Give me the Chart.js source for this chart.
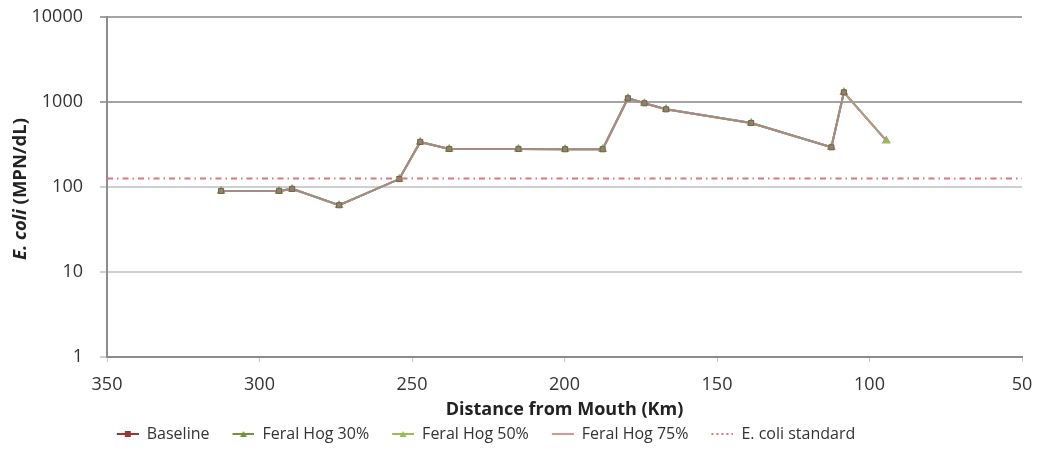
<!DOCTYPE html>
<html>
<head>
<meta charset="utf-8">
<script src="https://cdn.jsdelivr.net/npm/chart.js@4.4.1/dist/chart.umd.min.js"></script>
<style>
    html, body { margin: 0; padding: 0; background: #fff; }
    #wrap { width: 1040px; height: 452px; }
</style>
</head>
<body>
<div id="wrap"><canvas id="chart" width="1040" height="452"></canvas></div>
<script>
// Distance from mouth (km) of each sampling station
const distances = [312.6, 293.6, 289.3, 273.9, 254.2, 247.3, 237.8, 215.1, 199.8, 187.5, 179.2, 173.8, 166.7, 138.8, 112.5, 108.4, 94.5];
// E. coli (MPN/dL) per station
const baseline = [90, 90, 95, 61, 124, 339, 280, 280, 278, 278, 1106, 966, 820, 566, 293, 1300];
const feralHog30 = [90, 90, 95, 61, 124, 339, 280, 280, 278, 278, 1106, 966, 820, 566, 293, 1300, 351];
const feralHog50 = [90, 90, 95, 61, 124, 339, 280, 280, 278, 278, 1106, 966, 820, 566, 293, 1300, 351];
const feralHog75 = [90, 90, 95, 61, 124, 339, 280, 280, 278, 278, 1106, 966, 820, 566, 293, 1300, 351];
const standardValue = 126;
const xRange = [50, 350];
const yTicks = [1, 10, 100, 1000, 10000];

const FONT = "'Open Sans', 'DejaVu Sans', sans-serif";
const LEGEND_SHIFT = -34;

const COLORS = {
    baseline: '#953735',
    hog30: '#76923c',
    hog50: '#9bbb59',
    hog75: '#d99694',
    standard: '#d9777a',
};

function toPoints(vals) {
    return vals.map((v, i) => ({ x: distances[i], y: v }));
}

// legend swatch: blank lead-in (acts as the gap), then a line with a marker
function swatch(color, marker, dash) {
    const lead = 18, w = 22;
    const c = document.createElement('canvas');
    c.width = lead + w; c.height = 10;
    const g = c.getContext('2d');
    g.strokeStyle = color;
    g.lineWidth = 2;
    if (dash) g.setLineDash(dash);
    g.beginPath(); g.moveTo(lead, 5); g.lineTo(lead + w, 5); g.stroke();
    g.setLineDash([]);
    g.fillStyle = color;
    const cx = lead + w / 2;
    if (marker === 'rect') g.fillRect(cx - 3, 2, 6, 6);
    if (marker === 'triangle') {
        g.beginPath(); g.moveTo(cx, 2); g.lineTo(cx + 3.5, 8); g.lineTo(cx - 3.5, 8); g.closePath(); g.fill();
    }
    return c;
}

// y axis title with italic "E. coli"
const yTitlePlugin = {
    id: 'yTitle',
    afterDraw(chart) {
        const { ctx, chartArea } = chart;
        const cy = (chartArea.top + chartArea.bottom) / 2 + 2;
        ctx.save();
        ctx.translate(21, cy);
        ctx.rotate(-Math.PI / 2);
        ctx.fillStyle = '#222';
        ctx.textBaseline = 'middle';
        const italic = `italic bold 18.5px ${FONT}`;
        const bold = `bold 18.5px ${FONT}`;
        ctx.font = italic;
        const w1 = ctx.measureText('E. coli').width;
        ctx.font = bold;
        const w2 = ctx.measureText(' (MPN/dL)').width;
        const x = -(w1 + w2) / 2;
        ctx.textAlign = 'left';
        ctx.font = italic;
        ctx.fillText('E. coli', x, 0);
        ctx.font = bold;
        ctx.fillText(' (MPN/dL)', x + w1, 0);
        ctx.restore();
    }
};

// nudge the legend row to where the original sits
const legendShiftPlugin = {
    id: 'legendShift',
    afterLayout(chart) {
        if (!chart.legend) return;
        chart.legend.left += LEGEND_SHIFT;
        chart.legend.right += LEGEND_SHIFT;
    }
};

const ctx = document.getElementById('chart').getContext('2d');

new Chart(ctx, {
    type: 'line',
    data: {
        datasets: [
            {
                label: 'Baseline',
                data: toPoints(baseline),
                borderColor: '#a68a86',
                backgroundColor: '#938169',
                pointStyle: 'rect',
                pointRadius: 3.6,
                pointBorderColor: '#716350',
                pointBorderWidth: 1,
                borderWidth: 2,
                order: 1,
                legendColor: COLORS.baseline,
                legendSwatch: swatch(COLORS.baseline, 'rect'),
            },
            {
                label: 'Feral Hog 30%',
                data: toPoints(feralHog30),
                borderColor: COLORS.hog30,
                backgroundColor: COLORS.hog30,
                pointStyle: 'triangle',
                pointRadius: 3,
                borderWidth: 2,
                order: 4,
                legendColor: COLORS.hog30,
                legendSwatch: swatch(COLORS.hog30, 'triangle'),
            },
            {
                label: 'Feral Hog 50%',
                data: toPoints(feralHog50),
                borderColor: COLORS.hog50,
                backgroundColor: '#8fae52',
                pointStyle: 'triangle',
                pointRadius: 3,
                borderWidth: 2,
                order: 3,
                legendColor: COLORS.hog50,
                legendSwatch: swatch(COLORS.hog50, 'triangle'),
            },
            {
                label: 'Feral Hog 75%',
                data: toPoints(feralHog75),
                borderColor: '#b8948f',
                pointRadius: 0,
                borderWidth: 2,
                order: 2,
                legendColor: COLORS.hog75,
                legendSwatch: swatch(COLORS.hog75, null),
            },
            {
                label: 'E. coli standard',
                data: [{ x: xRange[1], y: standardValue }, { x: xRange[0], y: standardValue }],
                borderColor: COLORS.standard,
                borderDash: [6, 4, 1.5, 4],
                borderWidth: 2,
                pointRadius: 0,
                order: 0,
                legendColor: COLORS.standard,
                legendSwatch: swatch(COLORS.standard, null, [2, 3]),
            },
        ]
    },
    options: {
        responsive: false,
        animation: false,
        layout: { padding: { left: 0, right: 18, top: 17, bottom: 0 } },
        plugins: {
            tooltip: { enabled: false },
            legend: {
                position: 'bottom',
                labels: {
                    color: '#333',
                    font: { family: FONT, size: 16 },
                    usePointStyle: true,
                    pointStyleWidth: 40,
                    padding: 5,
                    generateLabels(chart) {
                        return chart.data.datasets.map((ds, i) => ({
                            text: ds.label,
                            pointStyle: ds.legendSwatch,
                            fillStyle: ds.legendColor,
                            strokeStyle: ds.legendColor,
                            lineWidth: 0,
                            datasetIndex: i,
                            hidden: false,
                            fontColor: '#333',
                        }));
                    }
                }
            }
        },
        scales: {
            x: {
                type: 'linear',
                reverse: true,
                min: xRange[0],
                max: xRange[1],
                ticks: { stepSize: 50, color: '#333', font: { family: FONT, size: 18 }, padding: 12 },
                grid: { drawOnChartArea: false, drawTicks: true, tickLength: 5, color: '#cccccc' },
                border: { color: '#8c8c8c', width: 2 },
                title: {
                    display: true,
                    text: 'Distance from Mouth (Km)',
                    color: '#222',
                    font: { family: FONT, size: 18, weight: 'bold' },
                    padding: { top: 0, bottom: 0 },
                },
                afterFit(scale) {
                    scale.height = 64;
                    scale.paddingLeft = 0;
                    scale.paddingRight = 0;
                },
            },
            y: {
                type: 'logarithmic',
                min: yTicks[0],
                max: yTicks[yTicks.length - 1],
                afterBuildTicks(scale) { scale.ticks = yTicks.map(v => ({ value: v })); },
                ticks: {
                    color: '#333',
                    font: { family: FONT, size: 18 },
                    padding: 17,
                    callback: v => String(v),
                },
                grid: {
                    color: c => (c.tick && c.tick.value >= 1000 ? '#a4a4a4' : '#cfcfcf'),
                    lineWidth: 2,
                    tickLength: 7,
                },
                border: { color: '#8c8c8c', width: 2 },
                afterFit(scale) {
                    scale.width = 107;
                    scale.paddingTop = 0;
                    scale.paddingBottom = 0;
                },
            }
        }
    },
    plugins: [yTitlePlugin, legendShiftPlugin]
});
</script>
</body>
</html>
